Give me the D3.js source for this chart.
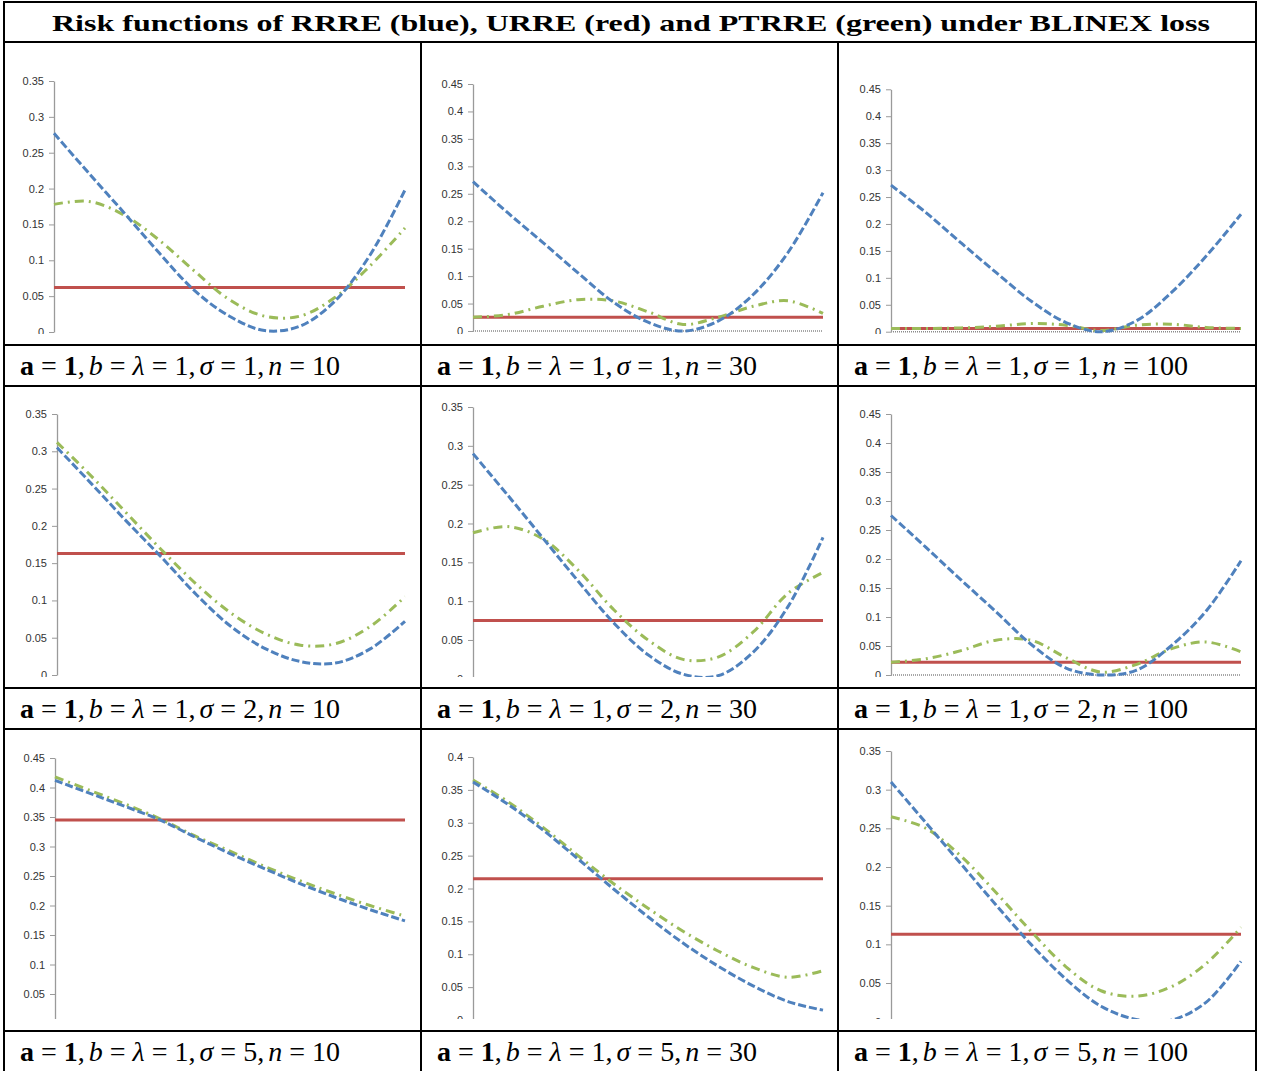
<!DOCTYPE html>
<html><head><meta charset="utf-8">
<script src="https://cdn.jsdelivr.net/npm/d3@7"></script>
<style>body{margin:0;background:#fff}</style>
</head><body><svg id="c" width="1262" height="1071"></svg>
<script>
// ---------- DATA ----------
const titleText = "Risk functions of RRRE (blue), URRE (red) and PTRRE (green) under BLINEX loss";
const xGrid = [0, 0.1, 0.2, 0.3, 0.4, 0.5, 0.6, 0.7, 0.8, 0.9, 1.0];
const sigmas = [1, 1, 1, 2, 2, 2, 5, 5, 5];
const ns = [10, 30, 100, 10, 30, 100, 10, 30, 100];
const ticks035 = [0, 0.05, 0.1, 0.15, 0.2, 0.25, 0.3, 0.35];
const ticks040 = [0, 0.05, 0.1, 0.15, 0.2, 0.25, 0.3, 0.35, 0.4];
const ticks045 = [0, 0.05, 0.1, 0.15, 0.2, 0.25, 0.3, 0.35, 0.4, 0.45];
const panelTicks = [ticks035, ticks045, ticks045, ticks035, ticks035, ticks045, ticks045, ticks040, ticks035];
// URRE (red, constant)
const urre = [0.062, 0.025, 0.006, 0.163, 0.075, 0.022, 0.345, 0.215, 0.113];
// RRRE (blue)
const rrre = [
  [0.277, 0.221, 0.166, 0.110, 0.058, 0.022, 0.002, 0.008, 0.043, 0.107, 0.198],
  [0.272, 0.215, 0.161, 0.106, 0.053, 0.016, 0.000, 0.018, 0.066, 0.143, 0.252],
  [0.272, 0.221, 0.165, 0.110, 0.057, 0.017, 0.000, 0.020, 0.072, 0.140, 0.218],
  [0.305, 0.256, 0.206, 0.158, 0.108, 0.065, 0.035, 0.018, 0.016, 0.035, 0.072],
  [0.290, 0.236, 0.181, 0.126, 0.073, 0.031, 0.006, 0.004, 0.034, 0.093, 0.182],
  [0.275, 0.220, 0.164, 0.109, 0.053, 0.012, 0.000, 0.008, 0.050, 0.110, 0.197],
  [0.412, 0.390, 0.368, 0.345, 0.316, 0.288, 0.262, 0.237, 0.214, 0.193, 0.174],
  [0.362, 0.328, 0.289, 0.245, 0.200, 0.157, 0.117, 0.082, 0.052, 0.028, 0.015],
  [0.310, 0.257, 0.204, 0.151, 0.100, 0.055, 0.020, 0.003, 0.002, 0.025, 0.078]
];
// PTRRE (green)
const ptrre = [
  [0.178, 0.182, 0.163, 0.128, 0.085, 0.045, 0.022, 0.022, 0.048, 0.092, 0.145],
  [0.025, 0.030, 0.045, 0.057, 0.055, 0.035, 0.012, 0.025, 0.045, 0.055, 0.032],
  [0.006, 0.006, 0.007, 0.010, 0.015, 0.012, 0.002, 0.012, 0.014, 0.008, 0.006],
  [0.312, 0.266, 0.217, 0.168, 0.122, 0.083, 0.055, 0.040, 0.042, 0.065, 0.105],
  [0.188, 0.196, 0.180, 0.140, 0.090, 0.050, 0.025, 0.028, 0.060, 0.110, 0.137],
  [0.022, 0.028, 0.042, 0.060, 0.060, 0.030, 0.005, 0.018, 0.045, 0.057, 0.040],
  [0.418, 0.395, 0.372, 0.347, 0.318, 0.292, 0.266, 0.242, 0.220, 0.200, 0.182],
  [0.365, 0.332, 0.293, 0.250, 0.208, 0.170, 0.135, 0.105, 0.080, 0.065, 0.075],
  [0.265, 0.250, 0.214, 0.167, 0.117, 0.071, 0.040, 0.033, 0.045, 0.075, 0.122]
];
const showXAxis = [false, true, true, false, false, true, false, false, false];

// ---------- LAYOUT ----------
const colX = [4, 421, 838, 1256];
const rowLines = [2, 42, 345, 386, 688, 729, 1031];
const chartTop = [42, 386, 729];
const clipBottom = [334, 677, 1019];
const captionBase = [375, 718, 1061];
const captionWidth = [354, 354, 367];
const plotBox = [
  {ax: 54, r: 405, y0: 332, yt: 81},
  {ax: 473, r: 823, y0: 331, yt: 84},
  {ax: 891, r: 1241, y0: 331.7, yt: 89.3},
  {ax: 57, r: 405, y0: 675, yt: 414},
  {ax: 473, r: 823, y0: 678.8, yt: 407},
  {ax: 891, r: 1241, y0: 675, yt: 414},
  {ax: 55, r: 405, y0: 1023.5, yt: 758},
  {ax: 473, r: 823, y0: 1020, yt: 757},
  {ax: 891, r: 1241, y0: 1021.7, yt: 751}
];

const svg = d3.select("#c");
const defs = svg.append("defs");
const fmt = d => d === 0 ? "0" : String(+d.toFixed(2));

for (let i = 0; i < 9; i++) {
  const col = i % 3, row = Math.floor(i / 3);
  const pb = plotBox[i];
  const tks = panelTicks[i];
  const ymax = tks[tks.length - 1];
  defs.append("clipPath").attr("id", "clip" + i).append("rect")
    .attr("x", colX[col] + 1).attr("y", chartTop[row] + 1)
    .attr("width", colX[col + 1] - colX[col] - 2)
    .attr("height", clipBottom[row] - chartTop[row] - 1);
  const g = svg.append("g").attr("clip-path", "url(#clip" + i + ")");
  const x = d3.scaleLinear().domain([0, 1]).range([pb.ax, pb.r]);
  const y = d3.scaleLinear().domain([0, ymax]).range([pb.y0, pb.yt]);

  if (showXAxis[i]) {
    g.append("line").attr("x1", pb.ax).attr("x2", pb.r).attr("y1", pb.y0).attr("y2", pb.y0)
      .attr("stroke", "#8a8a8a").attr("stroke-width", 1.5).attr("stroke-dasharray", "1,1");
  }
  const ax = g.append("g").attr("transform", `translate(${pb.ax},0)`)
    .call(d3.axisLeft(y).tickValues(tks).tickFormat(fmt).tickSize(5).tickSizeOuter(0).tickPadding(5));
  ax.select(".domain").attr("stroke", "#9a9a9a").attr("stroke-width", 1.3);
  ax.selectAll(".tick line").attr("stroke", "#9a9a9a");
  ax.selectAll(".tick text").attr("font-family", "'Liberation Sans', Arial, sans-serif")
    .attr("font-size", 11).attr("fill", "#333");

  const line = d3.line().x((d, k) => x(xGrid[k])).y(d => y(d)).curve(d3.curveCatmullRom.alpha(0.5));
  g.append("line").attr("x1", x(0)).attr("x2", x(1)).attr("y1", y(urre[i])).attr("y2", y(urre[i]))
    .attr("stroke", "#C0504D").attr("stroke-width", 3);
  g.append("path").attr("d", line(ptrre[i])).attr("fill", "none")
    .attr("stroke", "#9BBB59").attr("stroke-width", 3).attr("stroke-dasharray", "9,5,2,5");
  g.append("path").attr("d", line(rrre[i])).attr("fill", "none")
    .attr("stroke", "#4F81BD").attr("stroke-width", 3).attr("stroke-dasharray", "8,3");

  // caption
  const t = svg.append("text").attr("x", colX[col] + 16).attr("y", captionBase[row])
    .attr("font-family", "'Liberation Serif', 'DejaVu Serif', serif").attr("font-size", 24)
    .attr("fill", "#000");
  const parts = [
    ["a", "bold", "normal"], [" = ", "normal", "normal"], ["1", "bold", "normal"], [",", "normal", "normal"],
    ["b", "normal", "italic"], [" = ", "normal", "normal"], ["λ", "normal", "italic"], [" = 1,", "normal", "normal"],
    ["σ", "normal", "italic"], [" = " + sigmas[i] + ",", "normal", "normal"],
    ["n", "normal", "italic"], [" = " + ns[i], "normal", "normal"]
  ];
  parts.forEach(p => t.append("tspan").text(p[0]).attr("font-weight", p[1]).attr("font-style", p[2])
    .attr("dx", p[0] === "b" || p[0] === "σ" || p[0] === "n" ? 4 : null));
  const w = t.node().getComputedTextLength();
  const fs = 24 * captionWidth[col] / w;
  t.attr("font-size", Math.min(fs, 28));
}

// title
svg.append("text").attr("x", 52).attr("y", 31).text(titleText)
  .attr("font-family", "'Liberation Serif', 'DejaVu Serif', serif").attr("font-weight", "bold")
  .attr("font-size", 23).attr("textLength", 1158).attr("lengthAdjust", "spacingAndGlyphs");

// table grid
const grid = svg.append("g").attr("stroke", "#000").attr("stroke-width", 2).attr("fill", "none");
rowLines.forEach(yv => grid.append("line").attr("x1", colX[0] - 1).attr("x2", colX[3] + 1).attr("y1", yv).attr("y2", yv));
grid.append("line").attr("x1", colX[0]).attr("x2", colX[0]).attr("y1", rowLines[0]).attr("y2", 1071);
grid.append("line").attr("x1", colX[3]).attr("x2", colX[3]).attr("y1", rowLines[0]).attr("y2", 1071);
[colX[1], colX[2]].forEach(xv => grid.append("line").attr("x1", xv).attr("x2", xv).attr("y1", rowLines[1]).attr("y2", 1071));
</script></body></html>
